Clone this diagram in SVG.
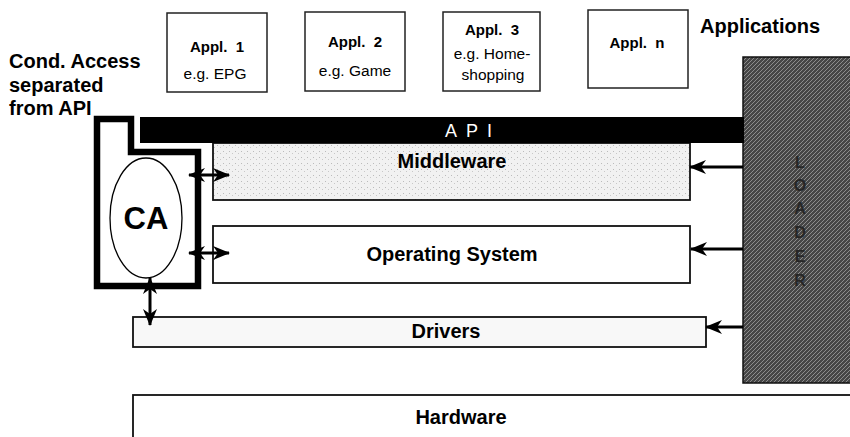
<svg xmlns="http://www.w3.org/2000/svg" width="850" height="437" viewBox="0 0 850 437">
<defs>
<style>
.lbl{font-family:"Liberation Sans",Arial,sans-serif;font-weight:bold;font-size:20px;fill:#000}
.ab{font-family:"Liberation Sans",Arial,sans-serif;font-weight:bold;font-size:15px;fill:#000;text-anchor:middle}
.ar{font-family:"Liberation Sans",Arial,sans-serif;font-size:15.5px;fill:#000;text-anchor:middle}
.appbox{fill:#fff;stroke:#222;stroke-width:1.5}
.layer{stroke:#111;stroke-width:1.8}
.conn{stroke:#000;stroke-width:3;fill:none}
.mid{text-anchor:middle}
.ld{font-family:"Liberation Sans",Arial,sans-serif;font-weight:bold;font-size:16px;fill:#262626;text-anchor:middle}
</style>
<pattern id="hatch" width="4" height="4" patternUnits="userSpaceOnUse">
<rect width="4" height="4" fill="#464646"/>
<path d="M0,4 L4,0" stroke="#8c8c8c" stroke-width="1"/>
</pattern>
<pattern id="stip" width="6" height="6" patternUnits="userSpaceOnUse">
<rect width="6" height="6" fill="#f1f1f1"/>
<rect x="1" y="1" width="1" height="1" fill="#bbb"/>
<rect x="4" y="3" width="1" height="1" fill="#c8c8c8"/>
</pattern>
<marker id="ah" viewBox="0 0 17 14" refX="16" refY="7" markerWidth="17" markerHeight="14" markerUnits="userSpaceOnUse" orient="auto-start-reverse">
<path d="M0,0 L17,7 L0,14 L5,7 Z" fill="#000"/>
</marker>
</defs>
<rect width="850" height="437" fill="#fff"/>

<g id="hardware">
<rect class="layer" x="133" y="395" width="725" height="50" fill="#fff"/>
<text class="lbl mid" x="461" y="424">Hardware</text>
</g>
<g id="drivers">
<rect class="layer" x="133" y="317" width="573" height="30" fill="#f8f8f8"/>
<text class="lbl mid" x="446" y="338">Drivers</text>
</g>
<g id="os">
<rect class="layer" x="213" y="226" width="477" height="57" fill="#fff"/>
<text class="lbl mid" x="452" y="261">Operating System</text>
</g>
<g id="middleware">
<rect class="layer" x="213" y="143" width="477" height="57" fill="url(#stip)"/>
<text class="lbl mid" x="452" y="168">Middleware</text>
</g>

<g id="loader">
<rect x="743" y="57" width="110" height="326" fill="url(#hatch)" stroke="#111" stroke-width="1.5"/>
<text class="ld" x="800" y="168">L</text>
<text class="ld" x="800" y="191">O</text>
<text class="ld" x="800" y="214">A</text>
<text class="ld" x="800" y="238">D</text>
<text class="ld" x="800" y="262">E</text>
<text class="ld" x="800" y="286">R</text>
</g>

<g id="api">
<rect x="140" y="117" width="604" height="26" fill="#000"/>
<text x="473" y="137" font-family="'Liberation Sans',Arial,sans-serif" font-size="18" fill="#fff" text-anchor="middle" letter-spacing="9">API</text>
</g>

<g id="ca">
<path d="M97,119 L131,119 L131,152 L198,152 L198,286 L97,286 Z" fill="#fff" stroke="#000" stroke-width="6.5" stroke-linejoin="miter"/>
<ellipse cx="146" cy="218" rx="36" ry="60" fill="#fff" stroke="#000" stroke-width="1.3"/>
<text x="146" y="229" font-family="'Liberation Sans',Arial,sans-serif" font-weight="bold" font-size="31" text-anchor="middle">CA</text>
</g>

<g id="appl1">
<rect class="appbox" x="167" y="13" width="100" height="79"/>
<text class="ab" x="217" y="52" xml:space="preserve">Appl.  1</text>
<text class="ar" x="215" y="79">e.g. EPG</text>
</g>
<g id="appl2">
<rect class="appbox" x="305" y="12" width="100" height="79"/>
<text class="ab" x="355" y="47" xml:space="preserve">Appl.  2</text>
<text class="ar" x="355" y="76">e.g. Game</text>
</g>
<g id="appl3">
<rect class="appbox" x="443" y="12" width="97" height="79"/>
<text class="ab" x="492" y="35" xml:space="preserve">Appl.  3</text>
<text class="ar" x="492" y="59">e.g. Home-</text>
<text class="ar" x="493" y="80">shopping</text>
</g>
<g id="appln">
<rect class="appbox" x="588" y="10" width="100" height="78"/>
<text class="ab" x="637" y="48" xml:space="preserve">Appl.  n</text>
</g>

<g id="labels">
<text class="lbl" x="700" y="33">Applications</text>
<text class="lbl" x="9" y="68">Cond. Access</text>
<text class="lbl" x="9" y="92">separated</text>
<text class="lbl" x="9" y="115">from API</text>
</g>

<g id="connectors">
<line class="conn" x1="189" y1="175" x2="229" y2="175" marker-start="url(#ah)" marker-end="url(#ah)"/>
<line class="conn" x1="189" y1="253" x2="229" y2="253" marker-start="url(#ah)" marker-end="url(#ah)"/>
<line class="conn" x1="150" y1="278" x2="150" y2="325" marker-start="url(#ah)" marker-end="url(#ah)"/>
<line class="conn" x1="743" y1="167" x2="690" y2="167" marker-end="url(#ah)"/>
<line class="conn" x1="743" y1="249" x2="691" y2="249" marker-end="url(#ah)"/>
<line class="conn" x1="743" y1="327" x2="706" y2="327" marker-end="url(#ah)"/>
</g>
</svg>
